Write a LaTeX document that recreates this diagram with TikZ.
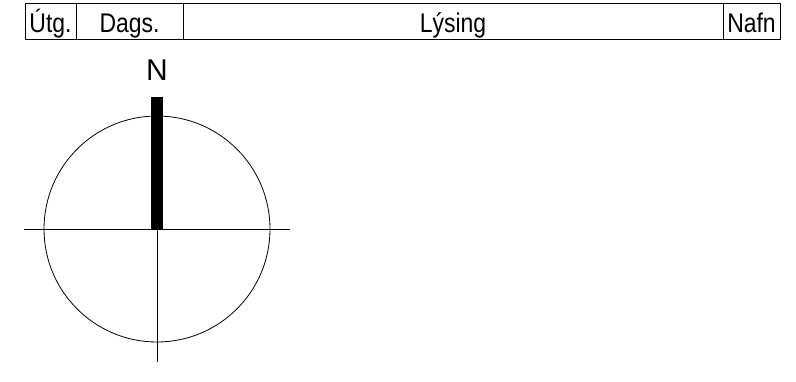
\documentclass[tikz,border=0pt]{standalone}
\usepackage{fontspec}
\setmainfont{Liberation Sans}
\newfontfamily\narrowfont{Liberation Sans}[FakeStretch=0.85]
\usetikzlibrary{positioning}

\begin{document}
\begin{tikzpicture}[
  x=1pt, y=-1pt,
  cell/.style={rectangle, draw, line width=0.9pt, inner sep=0pt, outer sep=0pt, minimum height=36pt, text height=22.4pt, text depth=0pt, anchor=north west, font=\narrowfont\fontsize{27}{32}\selectfont},
  thinline/.style={line width=0.8pt}
]
  \useasboundingbox (0,0) rectangle (796,382);

  % Title block
  \node[cell, minimum width=51pt] (utg) at (25,3.5) {Útg.};
  \node[cell, minimum width=107pt, right=0pt of utg.north east, anchor=north west] (dags) {Dags.};
  \node[cell, minimum width=540pt, right=0pt of dags.north east, anchor=north west] (lysing) {Lýsing};
  \node[cell, minimum width=57pt, right=0pt of lysing.north east, anchor=north west] (nafn) {Nafn};

  % North arrow
  \node[circle, draw, thinline, minimum size=226pt, inner sep=0pt] (compass) at (157,229) {};
  \coordinate (west) at (24,229);
  \coordinate (east) at (290,229);
  \coordinate (south) at (157,362);
  \draw[thinline] (west) -- (east);
  \draw[thinline] (compass.center) -- (south);
  \fill (151,97) rectangle (163,229);
  \node[font=\fontsize{30}{36}\selectfont, inner sep=0pt] (north) at (157,70) {N};
\end{tikzpicture}
\end{document}
